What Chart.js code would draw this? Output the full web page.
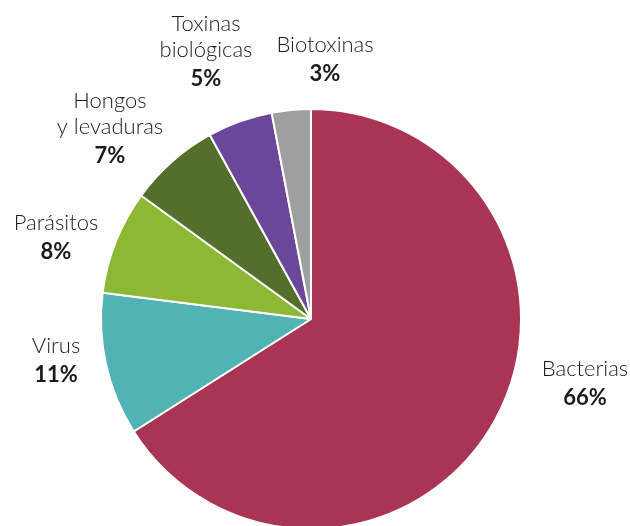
<!DOCTYPE html>
<html>
<head>
<meta charset="utf-8">
<script src="https://cdn.jsdelivr.net/npm/chart.js@4"></script>
<style>
  html, body { margin: 0; padding: 0; background: #fff; overflow: hidden; }
  #wrap { position: relative; width: 630px; height: 540px; }
</style>
</head>
<body>
<div id="wrap"><canvas id="myChart"></canvas></div>
<script>
const categories = ["Bacterias", "Virus", "Parásitos", "Hongos\ny levaduras", "Toxinas\nbiológicas", "Biotoxinas"];
const shares = [66, 11, 8, 7, 5, 3];
const colors = ["#a93454", "#52b3b5", "#8cb833", "#546f2b", "#6b4799", "#a09f9f"];

// where each label block sits (center x, baseline of first line)
const labelSpots = [
    [585, 376], [56, 353], [56, 230], [110, 108], [206, 31], [325, 52]
];

const labelPlugin = {
    id: "outerLabels",
    afterDraw(chart) {
        const ctx = chart.ctx;
        const values = chart.data.datasets[0].data;
        ctx.save();
        ctx.fillStyle = "#1a1a1a";
        ctx.textAlign = "center";
        ctx.textBaseline = "alphabetic";
        chart.data.labels.forEach((label, i) => {
            const [x, y] = labelSpots[i];
            const lines = label.split("\n");
            ctx.font = "300 22px Lato";
            lines.forEach((line, k) => ctx.fillText(line, x, y + k * 26));
            ctx.font = "bold 22px Lato";
            ctx.fillText(values[i] + "%", x, y + lines.length * 26 + 3);
        });
        ctx.restore();
    }
};

const info = {
    labels: categories,
    datasets: [
        {
            data: shares,
            backgroundColor: colors,
            borderColor: "#ffffff",
            borderWidth: 2
        }
    ]
};

const options = {
    responsive: true,
    maintainAspectRatio: false,
    animation: false,
    layout: {
        padding: { top: 108, bottom: 10, left: 100, right: 108 }
    },
    plugins: {
        legend: { display: false },
        tooltip: { enabled: false }
    }
};

new Chart(document.getElementById("myChart"), {
    type: "pie",
    data: info,
    options,
    plugins: [labelPlugin]
});
</script>
</body>
</html>
